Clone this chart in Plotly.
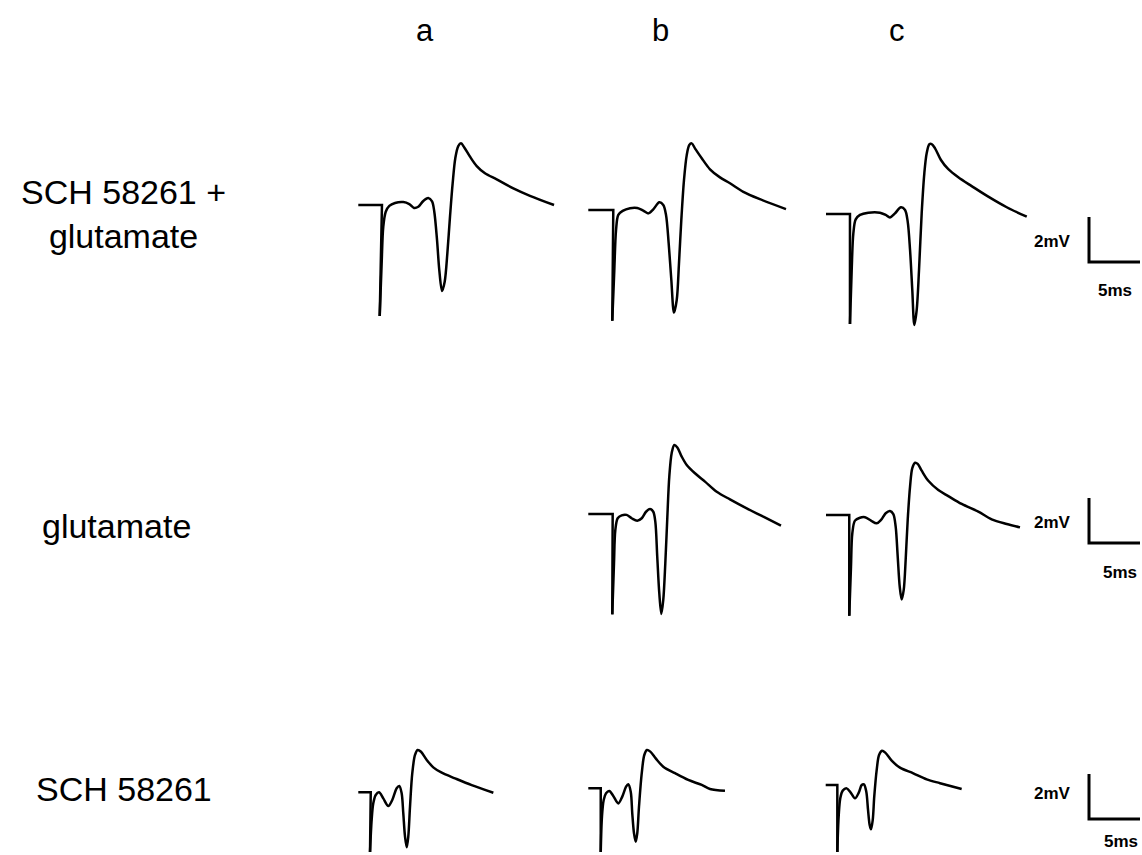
import plotly.graph_objects as go

# Field-potential recordings: time in ms after sweep start, voltage in mV
# relative to the pre-stimulus baseline.

# SCH 58261 + glutamate
sch_glu_a_t = [0, 2.32, 2.10, 2.29, 2.45, 2.69, 3.04, 3.60, 4.41, 5.00, 5.46, 5.88, 6.37, 6.86, 7.23,
               7.45, 7.72, 7.94, 8.21, 8.47, 8.73, 8.99, 9.25, 9.51, 9.80, 10.07, 10.39, 10.95, 11.61,
               12.42, 13.57, 15.20, 16.83, 19.19]
sch_glu_a_v = [0, 0, -4.93, -2.59, -0.96, -0.30, -0.04, 0.09, 0.13, 0.04, -0.13, -0.08, 0.18, 0.31, 0.16,
               -0.30, -1.56, -2.89, -3.82, -3.41, -2.15, -0.52, 0.96, 2.08, 2.62, 2.74, 2.56, 2.15, 1.73,
               1.41, 1.14, 0.74, 0.41, 0]

sch_glu_b_t = [0, 2.45, 2.35, 2.55, 2.72, 2.94, 3.37, 4.09, 4.80, 5.39, 5.88, 6.37, 6.96, 7.35, 7.62,
               7.88, 8.14, 8.40, 8.67, 8.89, 9.12, 9.38, 9.65, 9.90, 10.14, 10.46, 11.12, 11.93, 12.91,
               13.89, 15.20, 16.83, 19.38]
sch_glu_b_v = [0, 0, -4.92, -2.67, -0.89, -0.22, -0.04, 0.08, 0.09, -0.03, -0.15, 0.03, 0.34, 0.22, -0.22,
               -1.48, -3.11, -4.56, -4.00, -2.37, -0.44, 1.33, 2.44, 2.89, 2.96, 2.74, 2.30, 1.81, 1.45,
               1.19, 0.81, 0.48, 0.04]

sch_glu_c_t = [0, 2.35, 2.35, 2.52, 2.68, 2.91, 3.33, 4.15, 5.29, 5.85, 6.27, 6.76, 7.35, 7.75, 8.01,
               8.24, 8.46, 8.66, 8.89, 9.12, 9.38, 9.64, 9.87, 10.13, 10.36, 10.69, 11.27, 11.99, 12.97,
               14.28, 15.91, 17.72, 19.68]
sch_glu_c_v = [0, 0, -4.89, -2.49, -0.86, -0.24, -0.04, 0.06, 0.06, -0.04, -0.15, 0.03, 0.30, 0.18, -0.34,
               -1.60, -3.38, -4.93, -4.27, -2.49, 0.03, 1.81, 2.70, 3.10, 3.11, 2.92, 2.40, 1.99, 1.63,
               1.24, 0.77, 0.30, -0.12]

# glutamate
glu_b_t = [0, 2.39, 2.35, 2.52, 2.65, 2.88, 3.27, 3.76, 4.25, 4.80, 5.24, 5.66, 6.05, 6.37, 6.57,
           6.76, 6.96, 7.16, 7.35, 7.55, 7.75, 7.94, 8.18, 8.43, 8.73, 9.16, 9.65, 10.46, 11.44,
           12.59, 13.89, 15.53, 17.16, 18.89]
glu_b_v = [0, 0, -4.46, -2.19, -0.71, -0.19, -0.06, -0.04, -0.19, -0.30, -0.19, 0.10, 0.22, 0.10, -0.34,
           -1.90, -3.52, -4.44, -3.82, -2.19, -0.12, 1.66, 2.72, 3.07, 2.96, 2.55, 2.18, 1.81, 1.44,
           0.99, 0.65, 0.25, -0.12, -0.52]

glu_c_t = [0, 2.28, 2.28, 2.45, 2.58, 2.84, 3.33, 3.82, 4.41, 4.97, 5.39, 5.85, 6.27, 6.60, 6.83,
           7.03, 7.23, 7.42, 7.62, 7.81, 8.01, 8.24, 8.46, 8.73, 8.99, 9.38, 10.03, 11.01, 11.99,
           13.30, 14.93, 16.24, 17.72, 19.02]
glu_c_v = [0, 0, -4.48, -2.30, -0.81, -0.25, -0.12, -0.10, -0.25, -0.37, -0.22, 0.08, 0.18, 0.04, -0.52,
           -1.85, -3.19, -3.75, -3.33, -2.00, -0.22, 1.26, 2.08, 2.32, 2.27, 1.97, 1.52, 1.11, 0.84,
           0.49, 0.15, -0.19, -0.40, -0.55]

# SCH 58261
sch_a_t = [0, 1.22, 1.15, 1.31, 1.47, 1.71, 2.03, 2.45, 2.94, 3.33, 3.76, 4.02, 4.25, 4.41, 4.58,
           4.75, 4.90, 5.07, 5.29, 5.56, 5.82, 6.15, 6.71, 7.35, 8.18, 9.48, 11.12, 13.24]
sch_a_v = [0, 0, -2.65, -1.23, -0.49, -0.12, 0, -0.27, -0.61, -0.34, 0.18, 0.28, -0.04, -0.93, -1.97,
           -2.44, -1.97, -0.64, 0.84, 1.66, 1.88, 1.80, 1.44, 1.11, 0.87, 0.62, 0.32, -0.02]

sch_b_t = [0, 1.22, 1.22, 1.34, 1.51, 1.74, 2.06, 2.45, 2.94, 3.33, 3.70, 3.92, 4.16, 4.31, 4.48,
           4.65, 4.80, 4.97, 5.24, 5.49, 5.75, 6.08, 6.61, 7.35, 8.50, 9.80, 11.12, 11.93, 13.40]
sch_b_v = [0, 0, -2.83, -1.26, -0.52, -0.22, -0.12, -0.34, -0.67, -0.37, 0.07, 0.18, -0.15, -1.11, -2.00,
           -2.37, -2.00, -0.82, 0.67, 1.48, 1.70, 1.63, 1.33, 0.96, 0.67, 0.37, 0.15, -0.03, -0.11]

sch_c_t = [0, 1.14, 1.14, 1.27, 1.43, 1.67, 2.06, 2.45, 2.87, 3.24, 3.53, 3.75, 3.98, 4.15, 4.31,
           4.44, 4.61, 4.76, 5.00, 5.23, 5.52, 5.84, 6.47, 7.28, 8.59, 9.90, 11.21, 13.33]
sch_c_v = [0, 0, -2.98, -1.41, -0.59, -0.25, -0.15, -0.34, -0.59, -0.34, 0, 0.03, -0.30, -1.11, -1.78,
           -1.97, -1.56, -0.52, 0.67, 1.33, 1.52, 1.44, 1.08, 0.77, 0.52, 0.25, 0.08, -0.18]

# Calibration bar
SCALE_MS = 5
SCALE_MV = 2

column_labels = ["a", "b", "c"]
row_labels = ["SCH 58261 +<br>glutamate", "glutamate", "SCH 58261"]

# ---- layout geometry (page pixels) ----
W, H = 1142, 855
PX_PER_MS = 10.2
PX_PER_MV = 22.5
FONT = "Arial, Liberation Sans, sans-serif"

# sweep-start point of each recording on the page
panels = [
    (sch_glu_a_t, sch_glu_a_v, (358.3, 205.0)),
    (sch_glu_b_t, sch_glu_b_v, (588.3, 210.0)),
    (sch_glu_c_t, sch_glu_c_v, (826.0, 214.0)),
    (glu_b_t, glu_b_v, (588.3, 514.0)),
    (glu_c_t, glu_c_v, (826.0, 515.0)),
    (sch_a_t, sch_a_v, (358.3, 792.3)),
    (sch_b_t, sch_b_v, (588.3, 788.3)),
    (sch_c_t, sch_c_v, (825.7, 785.0)),
]
# corner of each calibration bar
scale_corners = [(1089, 262), (1089, 543), (1089, 819)]
scale_mv_text = [(1052, 241), (1052, 522), (1052, 793)]
scale_ms_text = [(1115, 290), (1120, 572), (1121, 841)]

fig = go.Figure()
layout_axes = {}


def add_axes(idx, origin):
    x0, y0 = origin
    xname = "xaxis" if idx == 1 else f"xaxis{idx}"
    yname = "yaxis" if idx == 1 else f"yaxis{idx}"
    suffix = "" if idx == 1 else str(idx)
    layout_axes[xname] = dict(domain=[0, 1], range=[-x0 / PX_PER_MS, (W - x0) / PX_PER_MS],
                              visible=False, fixedrange=True, anchor="y" + suffix)
    layout_axes[yname] = dict(domain=[0, 1], range=[-(H - y0) / PX_PER_MV, y0 / PX_PER_MV],
                              visible=False, fixedrange=True, anchor="x" + suffix)
    return "x" + suffix, "y" + suffix


idx = 1
for t, v, origin in panels:
    xa, ya = add_axes(idx, origin)
    # stimulus artefact: straight step down from the baseline
    fig.add_trace(go.Scatter(x=t[:3], y=v[:3], mode="lines", xaxis=xa, yaxis=ya,
                             line=dict(color="black", width=2.5), showlegend=False,
                             hoverinfo="skip"))
    # evoked response after the artefact
    fig.add_trace(go.Scatter(x=t[2:], y=v[2:], mode="lines", xaxis=xa, yaxis=ya,
                             line=dict(color="black", width=2.5, shape="spline", smoothing=0.9),
                             showlegend=False, hoverinfo="skip"))
    idx += 1

for corner in scale_corners:
    xa, ya = add_axes(idx, corner)
    fig.add_trace(go.Scatter(x=[0, 0, SCALE_MS], y=[SCALE_MV, 0, 0], mode="lines",
                             xaxis=xa, yaxis=ya, line=dict(color="black", width=3),
                             showlegend=False, hoverinfo="skip"))
    idx += 1


def label(text, xpix, ypix, size, color="black"):
    return dict(text=text, x=xpix / W, y=1 - ypix / H, xref="paper", yref="paper",
                xanchor="center", yanchor="middle", showarrow=False,
                font=dict(size=size, family=FONT, color=color))


annotations = []
for text, xpix in zip(column_labels, [425, 660, 897]):
    annotations.append(label(text, xpix, 30, 31))
for text, (xpix, ypix) in zip(row_labels, [(123, 214), (116, 526), (124, 789)]):
    annotations.append(label(text, xpix, ypix, 34))
for (mx, my), (sx, sy) in zip(scale_mv_text, scale_ms_text):
    annotations.append(label(f"<b>{SCALE_MV}mV</b>", mx, my, 17))
    annotations.append(label(f"<b>{SCALE_MS}ms</b>", sx, sy, 17))

fig.update_layout(width=W, height=H, autosize=False, margin=dict(l=0, r=0, t=0, b=0),
                  paper_bgcolor="white", plot_bgcolor="rgba(0,0,0,0)",
                  annotations=annotations, **layout_axes)

fig.write_html("out.html", config={"displayModeBar": False})
